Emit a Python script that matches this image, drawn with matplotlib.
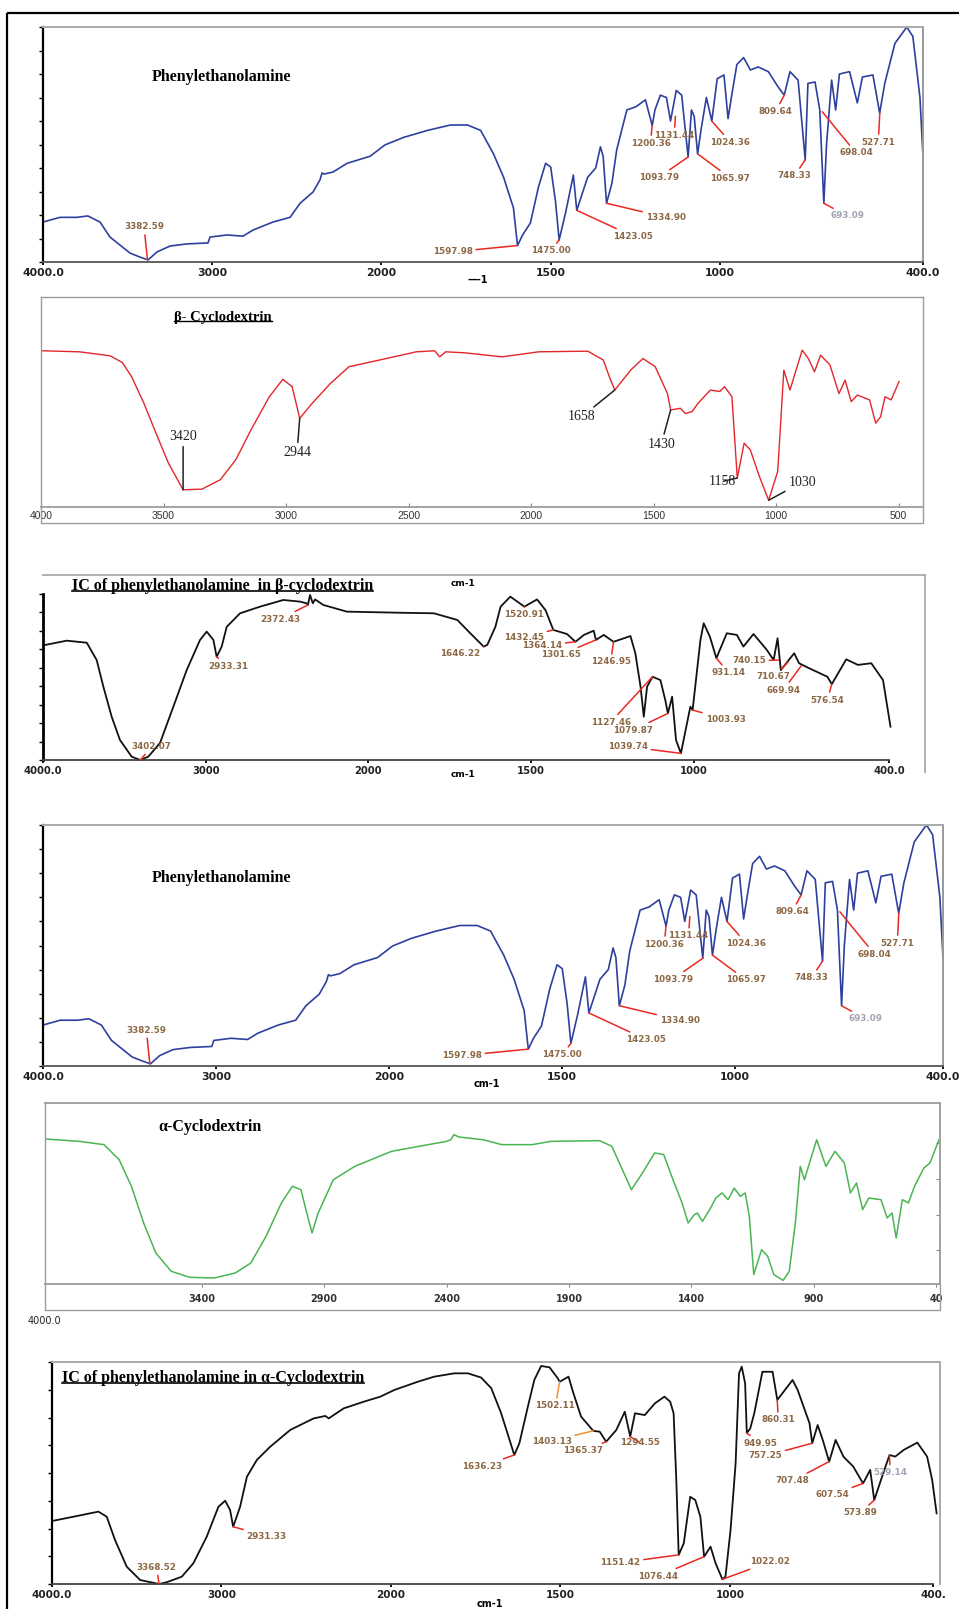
import matplotlib
matplotlib.use('Agg')
import matplotlib.pyplot as plt
from matplotlib.lines import Line2D
import numpy as np

W, H = 959, 1609

# phenylethanolamine, wavenumber (cm-1) vs transmittance (%)
pea_wn = [4000, 3900, 3800, 3735, 3663, 3604, 3545, 3486, 3427, 3379,
          3326, 3249, 3149, 3025, 3013, 2913, 2818, 2759, 2641, 2540,
          2481, 2404, 2363, 2351, 2340, 2286, 2203, 2067, 1990, 1935,
          1864, 1796, 1746, 1707, 1669, 1639, 1610, 1598, 1583, 1560,
          1536, 1515, 1500, 1486, 1475, 1456, 1433, 1423, 1391, 1367,
          1353, 1345, 1335, 1319, 1305, 1275, 1249, 1220, 1200, 1192,
          1176, 1158, 1146, 1129, 1113, 1094, 1084, 1076, 1066, 1055,
          1040, 1024, 1008, 988, 976, 964, 950, 930, 910, 887,
          857, 828, 810, 793, 769, 748, 740, 719, 705, 693,
          685, 670, 658, 647, 617, 594, 579, 548, 528, 513,
          483, 448, 430, 409, 400]
pea_t = [17, 19, 19, 19.6, 17, 10.6, 7.2, 3.8, 2.1, 0.9,
         4.3, 6.8, 7.7, 8.1, 10.6, 11.5, 11, 13.6, 17, 19,
         25, 29.8, 35, 37.9, 37.4, 38.3, 42, 45, 49.8, 53,
         56, 58.3, 58.3, 56, 46, 36, 23, 7, 11.5, 16.6,
         32, 42, 40.4, 26, 9.4, 21, 37, 22, 36, 40,
         49, 45, 25, 33.6, 47.7, 64.7, 66, 69, 58, 64.7,
         71, 70, 60, 73, 71, 44.7, 64.7, 62, 46, 57,
         70, 60, 78, 79.6, 61, 72, 84, 87, 81.7, 83,
         81, 74.5, 71, 81, 77.4, 43.4, 76, 76.6, 64.7, 25,
         50, 77.4, 64.7, 80, 81, 67.7, 78.7, 79.6, 63.4, 76,
         93, 100, 96, 70, 44.7]
pea_peak_wn = [3382.59, 1597.98, 1475.00, 1423.05, 1334.90, 1200.36, 1131.44,
               1093.79, 1065.97, 1024.36, 809.64, 748.33, 698.04, 693.09, 527.71]
pea_peak_t = [0.9, 7, 9.4, 22, 25, 58, 62, 44.7, 46, 60, 71, 43.4, 64, 25, 63.4]

# beta-cyclodextrin
bcd_wn = [3998, 3843, 3718, 3668, 3630, 3580, 3530, 3480, 3420, 3343,
          3268, 3205, 3143, 3068, 3013, 2975, 2944, 2893, 2818, 2743,
          2618, 2468, 2393, 2373, 2348, 2268, 2118, 1968, 1768, 1705,
          1680, 1658, 1593, 1543, 1493, 1443, 1430, 1390, 1370, 1343,
          1318, 1268, 1230, 1210, 1180, 1158, 1130, 1105, 1068, 1030,
          993, 968, 943, 893, 868, 843, 818, 780, 743, 718,
          693, 668, 618, 593, 573, 555, 530, 498]
bcd_t = [74.4, 73.9, 72, 68.8, 62, 49.4, 35, 20.9, 8.2, 8.5,
         13, 22.5, 36.7, 52.5, 60.8, 57.3, 42.2, 49.4, 58.9, 66.8,
         70, 73.9, 74.4, 71.5, 73.9, 73.4, 71.5, 73.9, 74.2, 70,
         62, 55.7, 65.2, 70.7, 66.8, 54, 46.2, 47, 44.5, 45.4,
         49.4, 55.7, 55, 57.3, 52.5, 13.8, 30.4, 27.2, 14.6, 3.2,
         17, 65.2, 55.7, 74.7, 70.7, 64.4, 72.3, 67.7, 54, 60.4,
         50.2, 53.3, 51, 39.9, 43, 52.5, 51, 59.7]
bcd_peak_wn = [3420, 2944, 1658, 1430, 1158, 1030]
bcd_peak_t = [8.2, 42.2, 55.7, 46.2, 13.8, 3.2]

# inclusion complex in beta-cyclodextrin
icb_wn = [3998, 3854, 3731, 3670, 3629, 3578, 3527, 3455, 3402, 3353,
          3281, 3199, 3117, 3035, 2994, 2953, 2933, 2902, 2871, 2789,
          2666, 2523, 2420, 2380, 2372, 2359, 2342, 2328, 2277, 2133,
          1902, 1799, 1727, 1687, 1646, 1635, 1610, 1594, 1564, 1521,
          1482, 1456, 1432, 1390, 1364, 1338, 1308, 1301, 1277, 1247,
          1195, 1180, 1164, 1154, 1144, 1127, 1103, 1088, 1080, 1067,
          1055, 1040, 1011, 1004, 980, 970, 951, 931, 899, 868,
          848, 817, 776, 755, 743, 733, 692, 677, 646, 590,
          576.5, 532, 496, 455, 419, 396]
icb_t = [62, 64.5, 63.4, 54, 39.6, 23.4, 10.8, 1.8, 0, 1.8,
         9.2, 28.8, 48.6, 64.9, 69.4, 64.9, 55.8, 61.3, 72, 79.3,
         82.9, 86.5, 85.6, 84.7, 83.8, 89.2, 84.7, 86.8, 83.8, 80.2,
         79.6, 79.3, 75.7, 68.5, 61.3, 62.2, 72, 82.9, 88.3, 82.9,
         86.8, 81, 70.3, 68.1, 63.9, 67.6, 69.9, 64.9, 67.6, 63.9,
         67, 57.7, 39.6, 23.4, 39.6, 45, 43.2, 32.4, 25.2, 34.2,
         10.8, 3.6, 28.8, 27, 64.9, 73.9, 66.7, 55, 68.5, 67.6,
         61.3, 68.1, 59.5, 54, 65.8, 48.6, 57.7, 52.3, 49.6, 45,
         41, 54.4, 51.4, 52.3, 43.2, 18]
icb_peak_wn = [3402.07, 2933.31, 2372.43, 1646.22, 1520.91, 1432.45, 1364.14,
               1301.65, 1246.95, 1127.46, 1079.87, 1039.74, 1003.93, 931.14,
               740.15, 710.67, 669.94, 576.54]
icb_peak_t = [0, 55.8, 83.8, 61.3, 82.9, 70.3, 63.9, 64.9, 63.9, 45, 25.2, 3.6,
              27, 55, 54, 53, 51, 41]

# alpha-cyclodextrin
acd_wn = [4038, 3900, 3800, 3738, 3688, 3638, 3588, 3525, 3450, 3350,
          3263, 3200, 3138, 3075, 3030, 2995, 2975, 2950, 2925, 2863,
          2775, 2625, 2475, 2400, 2383, 2370, 2350, 2250, 2175, 2050,
          1975, 1775, 1725, 1688, 1645, 1600, 1550, 1513, 1475, 1438,
          1413, 1388, 1375, 1355, 1325, 1300, 1275, 1250, 1225, 1200,
          1180, 1163, 1145, 1113, 1088, 1063, 1025, 1000, 975, 955,
          938, 913, 888, 850, 813, 775, 750, 725, 700, 675,
          625, 600, 580, 563, 538, 513, 488, 450, 425, 388]
acd_t = [80.1, 78.8, 77, 68.7, 54, 33.7, 17.1, 7, 3.7, 3.3,
         6.1, 11.6, 26.3, 44.8, 54, 52.1, 41.1, 28.2, 39.2, 57.6,
         65, 73.3, 77, 78.8, 79.7, 82.5, 81.2, 79.7, 77, 77,
         78.8, 79.2, 76.1, 65, 52.1, 61.3, 72.4, 71.5, 57.6, 44.8,
         33.7, 38.3, 39.2, 34.6, 41.1, 47.5, 50.3, 46.6, 53, 48.4,
         50.3, 37.4, 5.2, 19, 15.3, 5.2, 2, 7, 33.7, 65,
         57.6, 68.7, 79.7, 65, 73.3, 66.9, 50.3, 55.8, 41.1, 47.5,
         46.6, 36.5, 39.2, 25.4, 46.6, 44.8, 54, 64.1, 66.9, 79.7]

# inclusion complex in alpha-cyclodextrin
ica_wn = [3992, 3874, 3726, 3677, 3628, 3559, 3480, 3368.5, 3323, 3234,
          3166, 3087, 3018, 2978, 2949, 2931, 2890, 2850, 2791, 2713,
          2594, 2456, 2387, 2367, 2279, 2161, 2062, 1990, 1921, 1872,
          1813, 1773, 1734, 1704, 1675, 1650, 1636, 1621, 1596, 1577,
          1557, 1532, 1508, 1502, 1476, 1463, 1439, 1403, 1384, 1365,
          1335, 1310, 1294, 1280, 1251, 1221, 1193, 1176, 1166, 1158,
          1151, 1136, 1117, 1102, 1087, 1076, 1057, 1042, 1022, 1013,
          998, 983, 973, 965, 955, 950, 940, 928, 904, 874,
          860, 845, 815, 800, 765, 757, 741, 726, 707, 688,
          665, 636, 607, 586, 574, 551, 529, 512, 487, 447,
          418, 403, 390]
ica_t = [28.5, 30.3, 32.6, 30.3, 19.8, 7.8, 1.8, 0, 0.8, 3.3,
         9.3, 21.3, 34.8, 37.5, 33.3, 25.8, 34.8, 48.3, 55.9, 61.8,
         69.4, 74.6, 75.7, 74.6, 79.1, 82.1, 84.4, 87.4, 91.1, 93.4,
         94.9, 94.9, 93, 88.2, 77, 64.9, 58.1, 63.4, 79.9, 91.9,
         98.2, 97.6, 92.7, 91.1, 93.4, 86.6, 75.4, 69, 68.6, 64.1,
         69.4, 77.6, 66.4, 76.9, 76.1, 81.4, 84.4, 82.1, 76.9, 46.8,
         13.1, 18.3, 39.3, 37.8, 30.3, 12.3, 16.8, 9.3, 2.1, 3.3,
         24.3, 54.4, 94.9, 97.9, 90.4, 68, 70, 76.9, 95.6, 95.6,
         82.9, 85.9, 91.9, 87.4, 72.4, 63.4, 71.6, 64.9, 55.1, 64.9,
         57.4, 52.9, 45.3, 51.4, 37.8, 48.3, 58.1, 57.4, 60.4, 63.7,
         57.4, 46.8, 31.8]
ica_peak_wn = [3368.52, 2931.33, 1636.23, 1502.11, 1403.13, 1365.37, 1294.55,
               1151.42, 1076.44, 1022.02, 949.95, 860.31, 757.25, 707.48,
               607.54, 573.89, 529.14]
ica_peak_t = [0, 25.8, 58.1, 91.1, 69, 64.1, 66.4, 13.1, 12.3, 2.1, 68, 82.9,
              63.4, 55.1, 45.3, 37.8, 58.1]

# where the peak labels sit (wavenumber, %T)
pea_label_at = [(3403, 14.9), (1790, 4.3), (1500, 4.7), (1258, 11), (1160, 19),
                (1205, 50.6), (1135, 54), (1181, 36), (969, 35.7), (969, 51),
                (836, 64), (780, 36.6), (598, 46.4), (624, 19.6), (532, 51)]
bcd_label_at = [(3420, 33.5), (2955, 26), (1793, 43), (1468, 30), (1218, 12.2),
                (893, 11.9)]
icb_label_at = [(3332, 7.2), (2862, 50.8), (2543, 76.2), (1717, 57.3),
                (1523, 78.7), (1523, 66.3), (1467, 61.8), (1410, 56.8),
                (1256, 53), (1256, 20.4), (1187, 16.2), (1203, 7.2), (903, 22),
                (893, 47.2), (831, 53.6), (755, 45), (725, 37.8), (590, 32.4)]
ica_label_at = [(3382, 7.5), (2733, 21.6), (1731, 53), (1515, 80.2),
                (1526, 64.4), (1432, 60), (1265, 63.7), (1323, 9.6),
                (1211, 3.6), (881, 10), (911, 63.4), (857, 73.9), (896, 57.7),
                (815, 46.5), (699, 40.1), (615, 32.1), (527, 50.2)]

BLUE = '#2f3f9e'
RED = '#e3262b'
GREEN = '#49b553'
INK = '#111111'
FRAME = '#9c9c9c'
TAG = '#8c6845'
LEAD = '#ea2a22'

ir_ticks = [4000, 3000, 2000, 1500, 1000, 400]
ir_ticklabels = ['4000.0', '3000', '2000', '1500', '1000', '400.0']


# spectrometer axis: below 2000 cm-1 the scale is stretched twofold
def fwd(w):
    w = np.asarray(w, dtype=float)
    return np.where(w >= 2000, w, 2 * w - 2000)


def inv(u):
    u = np.asarray(u, dtype=float)
    return np.where(u >= 2000, u, (u + 2000) / 2)


fig = plt.figure(figsize=(W / 100, H / 100), dpi=100)
fig.patch.set_facecolor('white')


def box(x0, y0, x1, y1):
    return fig.add_axes([x0 / W, 1 - y1 / H, (x1 - x0) / W, (y1 - y0) / H])


def rule(xs, ys, color, lw):
    fig.add_artist(Line2D([x / W for x in xs], [1 - y / H for y in ys],
                          color=color, lw=lw, solid_capstyle='butt'))


def label(x, y, s, **kw):
    return fig.text(x / W, 1 - y / H, s, **kw)


def underline(t, lw=1.1):
    r = fig.canvas.get_renderer()
    bb = t.get_window_extent(renderer=r)
    y = bb.y0 + 0.2 * bb.height
    fig.add_artist(Line2D([bb.x0 / W, bb.x1 / W], [y / H, y / H],
                          color='black', lw=lw))


def ir_axes(x0, y0, x1, y1, xlim, broken, ticks, ticklabels):
    ax = box(x0, y0, x1, y1)
    if broken:
        ax.set_xscale('function', functions=(fwd, inv))
    ax.set_xlim(*xlim)
    ax.set_ylim(0, 100)
    ax.set_xticks(ticks)
    ax.set_xticklabels(ticklabels)
    ax.minorticks_off()
    ax.set_facecolor('none')
    return ax


def style_spines(ax, left, bottom, top, right):
    for side, (c, lw) in zip(['left', 'bottom', 'top', 'right'],
                             [left, bottom, top, right]):
        ax.spines[side].set_color(c)
        ax.spines[side].set_linewidth(lw)


def style_ticks(ax, family, size, color, weight='normal'):
    for lab in ax.get_xticklabels():
        lab.set_fontfamily(family)
        lab.set_fontsize(size)
        lab.set_color(color)
        lab.set_fontweight(weight)


def peaks(ax, wns, ts, spots, fmt, line_color, **text_kw):
    out = []
    for w, t, (lx, ly) in zip(wns, ts, spots):
        a = ax.annotate(fmt.format(w), xy=(w, t), xytext=(lx, ly),
                        ha='center', va='center', annotation_clip=False,
                        arrowprops=dict(arrowstyle='-', color=line_color,
                                        lw=1.1, shrinkA=0.5, shrinkB=0),
                        **text_kw)
        out.append(a)
    return out


tag_kw = dict(fontsize=6.3, color=TAG, family='DejaVu Sans', fontweight='bold')


def pea_panel(x0, y0, x1, y1, title_y):
    ax = ir_axes(x0, y0, x1, y1, (4000, 400), True, ir_ticks, ir_ticklabels)
    ax.plot(pea_wn, pea_t, color=BLUE, lw=1.2, clip_on=False)
    style_spines(ax, ('black', 1.6), ('#555555', 1.3), ('#aaaaaa', 1.4),
                 ('#999999', 1.4))
    ax.set_yticks(np.arange(0, 101, 10))
    ax.tick_params(axis='y', direction='out', length=3, width=1,
                   labelleft=False)
    ax.tick_params(axis='x', direction='out', length=2, width=1.3, pad=2)
    style_ticks(ax, 'DejaVu Sans', 7.8, '#222222', 'bold')
    anns = peaks(ax, pea_peak_wn, pea_peak_t, pea_label_at, '{:.2f}', LEAD,
                 **tag_kw)
    anns[13].set_color('#a3a3b3')
    label(x0 + 109, title_y, 'Phenylethanolamine', fontsize=11.5,
          family='Liberation Serif', fontweight='bold', va='center')
    return ax


# panel 1: phenylethanolamine
pea_panel(43, 27, 923, 262, 77)
label(467, 280, '\u2014-1', fontsize=7, fontweight='bold', va='center')

# panel 2: beta-cyclodextrin
ax2 = ir_axes(41, 297, 923, 507, (4000, 400), False,
              [4000, 3500, 3000, 2500, 2000, 1500, 1000, 500],
              ['4000', '3500', '3000', '2500', '2000', '1500', '1000', '500'])
ax2.plot(bcd_wn, bcd_t, color=RED, lw=1.0)
style_spines(ax2, (FRAME, 1), (FRAME, 1.3), (FRAME, 1), (FRAME, 1))
ax2.set_yticks([])
ax2.tick_params(axis='x', direction='in', length=3, width=0.8, pad=3,
                color='#888888')
style_ticks(ax2, ['Liberation Sans Narrow', 'Liberation Sans'], 7.5, '#333333')
peaks(ax2, bcd_peak_wn, bcd_peak_t, bcd_label_at, '{:d}', '#222222',
      fontsize=10, color='#222222', family='Liberation Serif')
rule([41, 41, 923, 923], [507, 523, 523, 507], FRAME, 1)
t2 = label(174, 317, '\u03b2- Cyclodextrin', fontsize=10.5,
           family='Liberation Serif', fontweight='bold', va='center')
underline(t2, 1.0)

# panel 3: inclusion complex with beta-cyclodextrin
ax3 = ir_axes(43, 575, 925, 760, (4000, 290), True, ir_ticks, ir_ticklabels)
ax3.plot(icb_wn, icb_t, color=INK, lw=1.3, clip_on=False)
style_spines(ax3, ('black', 2), ('#444444', 1.3), ('#aaaaaa', 1.3),
             ('#aaaaaa', 1.3))
ax3.spines['bottom'].set_bounds(400, 4000)
ax3.spines['left'].set_bounds(0, 90)
ax3.set_yticks(np.arange(0, 91, 10))
ax3.tick_params(axis='y', direction='out', length=3, width=1, labelleft=False)
ax3.tick_params(axis='x', direction='out', length=2, width=1.3, pad=2)
style_ticks(ax3, 'DejaVu Sans', 7.2, '#222222', 'bold')
peaks(ax3, icb_peak_wn, icb_peak_t, icb_label_at, '{:.2f}', LEAD, **tag_kw)
rule([925, 925], [760, 773], '#aaaaaa', 1.3)
t3 = label(72, 586, 'IC of phenylethanolamine  in \u03b2-cyclodextrin',
           fontsize=11.5, family='Liberation Serif', fontweight='bold',
           va='center')
underline(t3, 1.2)
label(463, 584, 'cm-1', fontsize=6.5, fontweight='bold', va='center',
      ha='center')
label(463, 775, 'cm-1', fontsize=6.5, fontweight='bold', va='center',
      ha='center')

# panel 4: phenylethanolamine again
pea_panel(43, 825, 943, 1066, 878)
label(487, 1084, 'cm-1', fontsize=7, fontweight='bold', va='center',
      ha='center')

# panel 5: alpha-cyclodextrin
ax5 = ir_axes(45, 1103, 940, 1284, (4041, 384), False,
              [3400, 2900, 2400, 1900, 1400, 900, 400],
              ['3400', '2900', '2400', '1900', '1400', '900', '40'])
ax5.plot(acd_wn, acd_t, color=GREEN, lw=1.1)
style_spines(ax5, (FRAME, 1), (FRAME, 1.3), (FRAME, 1.3), (FRAME, 1.3))
ax5.yaxis.set_ticks_position('right')
ax5.set_yticks([19, 38, 58, 78])
ax5.tick_params(axis='y', direction='in', length=3, width=0.8,
                labelright=False, color='#888888')
ax5.tick_params(axis='x', direction='out', length=2, width=0.8, pad=5,
                color='#888888')
style_ticks(ax5, 'DejaVu Sans', 7, '#333333', 'bold')
rule([45, 45, 940, 940], [1284, 1310, 1310, 1284], FRAME, 1)
label(28, 1321, '4000.0', fontsize=7, family='DejaVu Sans', va='center',
      color='#222222')
label(158, 1127, '\u03b1-Cyclodextrin', fontsize=11.5,
      family='Liberation Serif', fontweight='bold', va='center')

# panel 6: inclusion complex with alpha-cyclodextrin
ax6 = ir_axes(52, 1362, 940, 1584, (4000, 380), True, ir_ticks,
              ['4000.0', '3000', '2000', '1500', '1000', '400.'])
ax6.plot(ica_wn, ica_t, color=INK, lw=1.3, clip_on=False)
style_spines(ax6, ('black', 1.6), ('#444444', 1.3), ('#aaaaaa', 1.4),
             ('#aaaaaa', 1.4))
ax6.spines['bottom'].set_bounds(400, 4000)
ax6.set_yticks(np.arange(0, 101, 12.5))
ax6.tick_params(axis='y', direction='out', length=3, width=1, labelleft=False)
ax6.tick_params(axis='x', direction='out', length=2, width=1.3, pad=2)
style_ticks(ax6, 'DejaVu Sans', 7.5, '#222222', 'bold')
anns6 = peaks(ax6, ica_peak_wn, ica_peak_t, ica_label_at, '{:.2f}', LEAD,
              **tag_kw)
for i in (3, 4):
    anns6[i].arrow_patch.set_color('#f0922c')
anns6[16].set_color('#a3a3b3')
t6 = label(62, 1378, 'IC of phenylethanolamine in \u03b1-Cyclodextrin',
           fontsize=11.5, family='Liberation Serif', fontweight='bold',
           va='center')
underline(t6, 1.2)
label(490, 1604, 'cm-1', fontsize=7, fontweight='bold', va='center',
      ha='center')

# outer border
rule([7, 7], [13, H], 'black', 1.6)
rule([7, W], [13, 13], 'black', 1.6)

fig.savefig('out.png', dpi=100, facecolor='white')
